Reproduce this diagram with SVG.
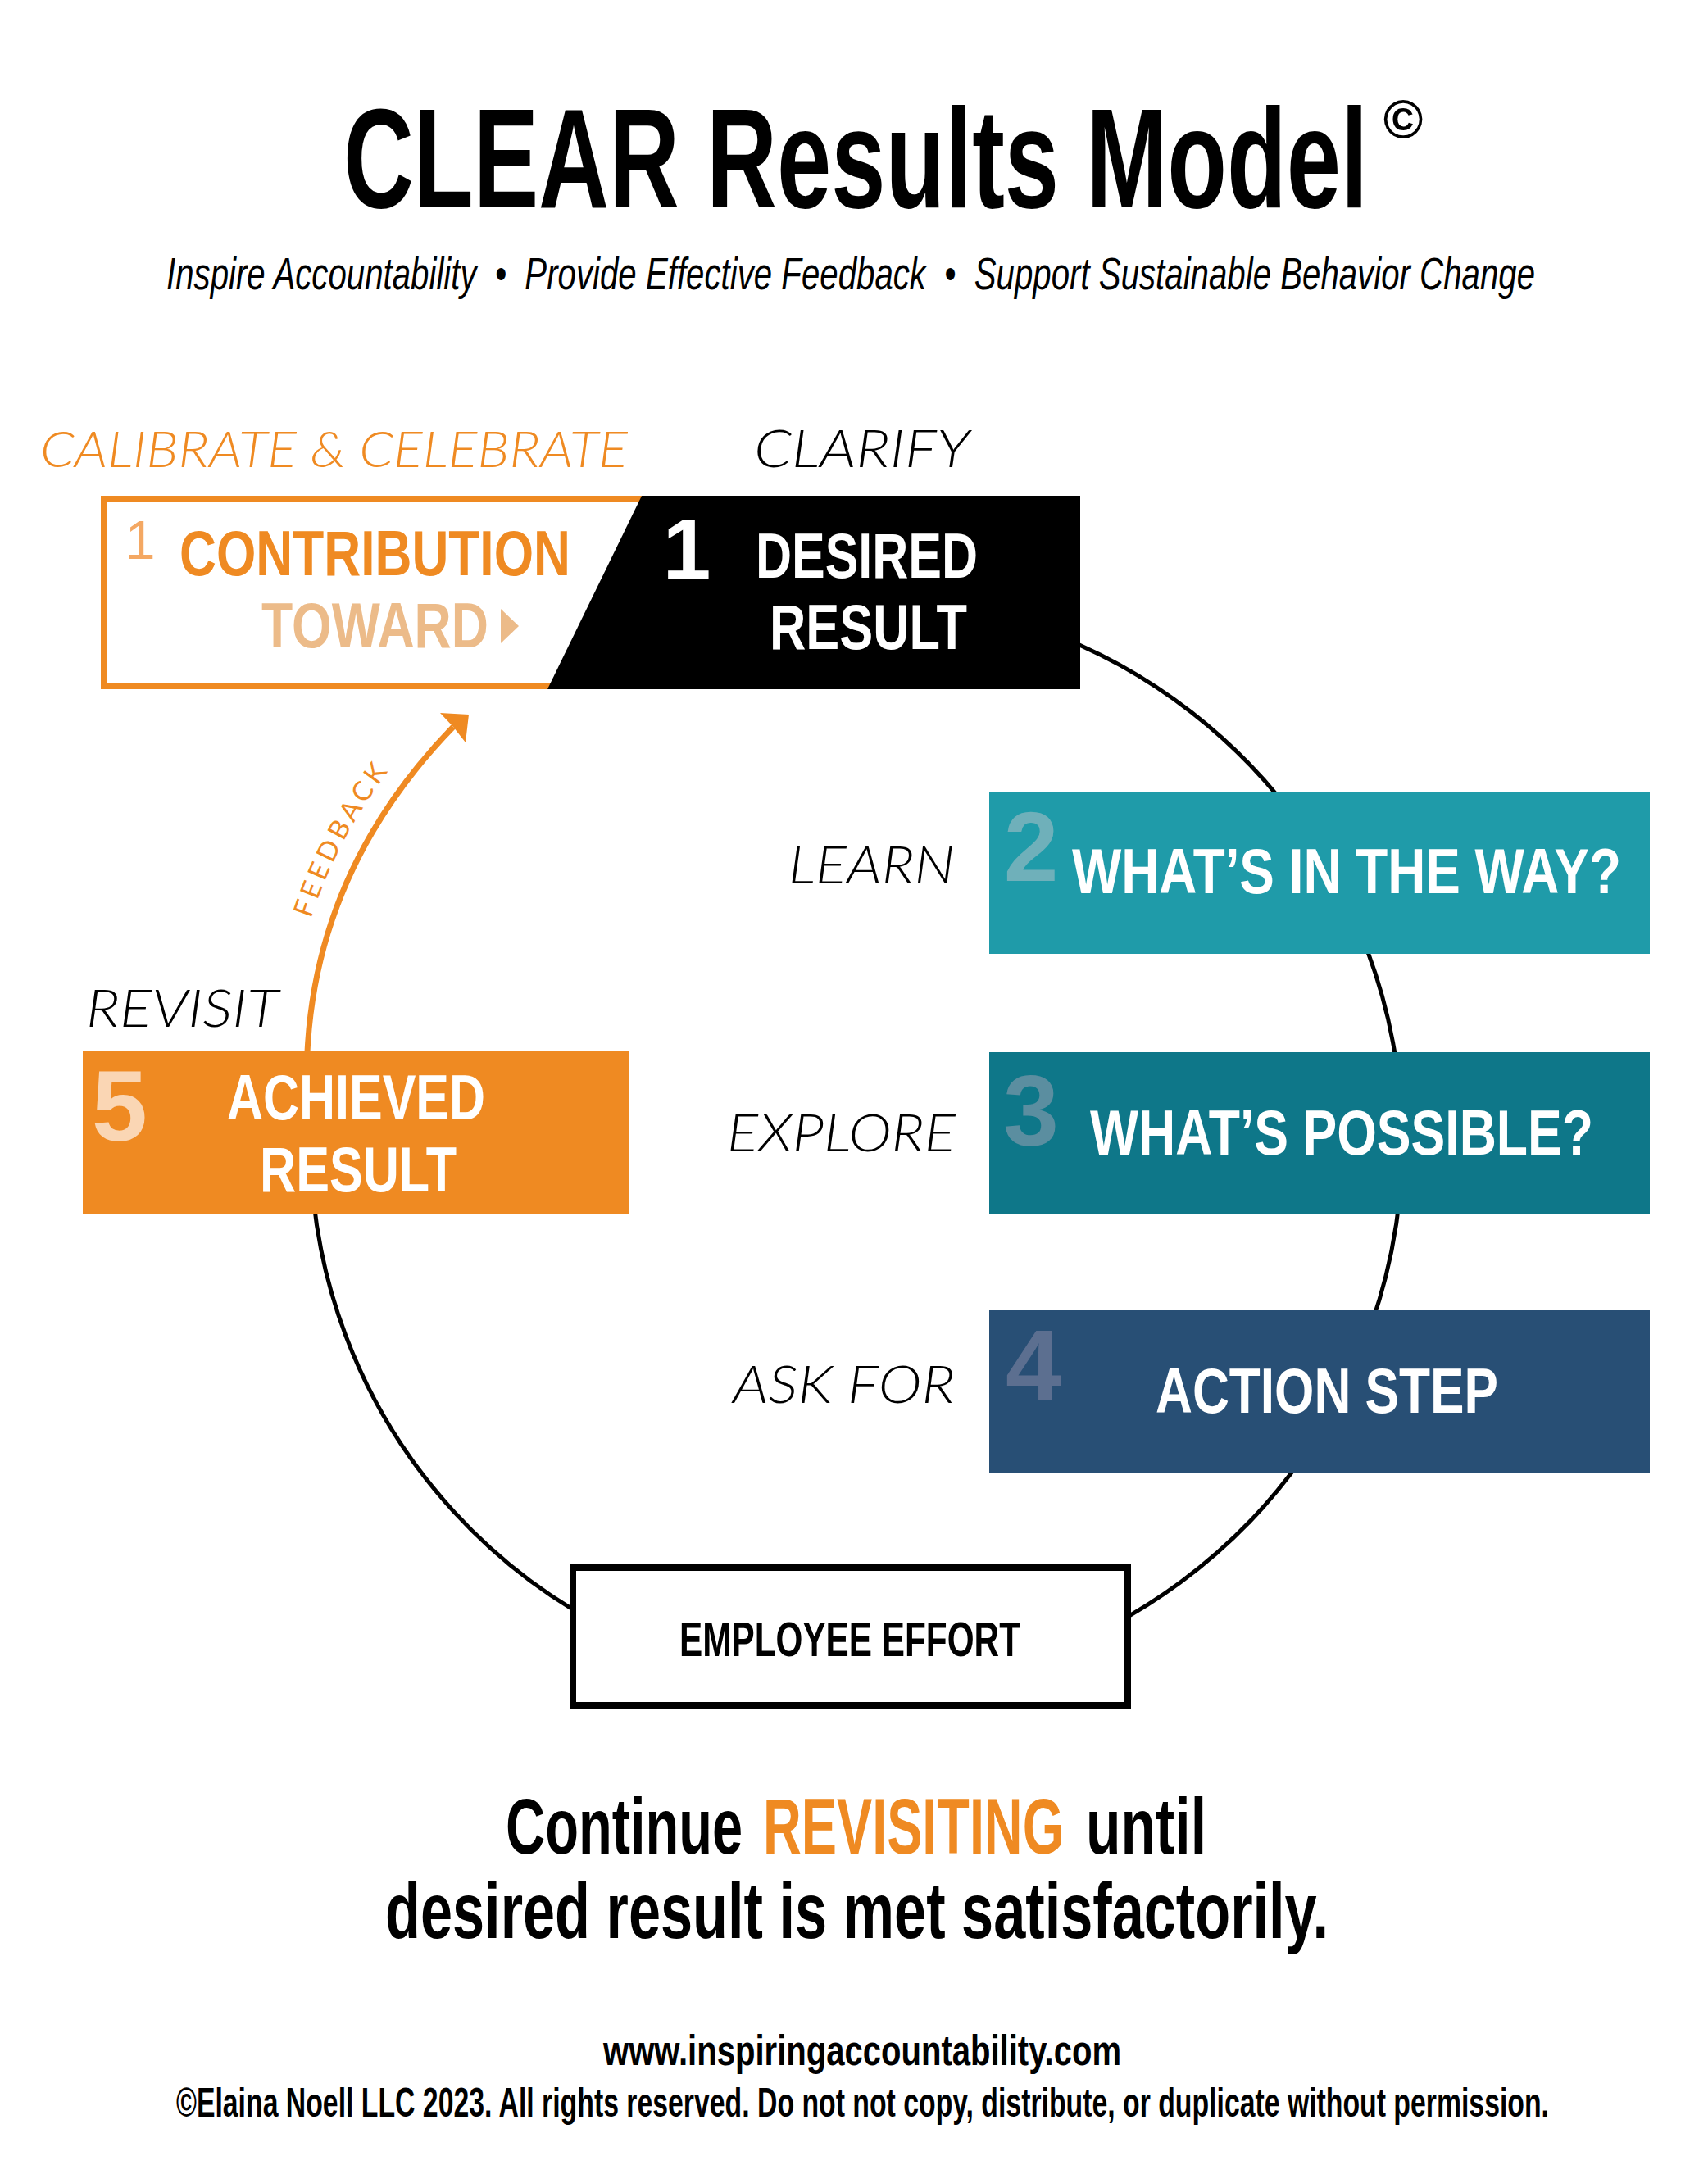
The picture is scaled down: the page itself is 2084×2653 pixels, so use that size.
<svg xmlns="http://www.w3.org/2000/svg" width="2084" height="2653" viewBox="0 0 2084 2653">
<style>
.cb{font-family:"Liberation Sans Narrow","Liberation Sans",Arial,sans-serif;font-weight:700}
.cn{font-family:"Liberation Sans Narrow","Liberation Sans",Arial,sans-serif;font-weight:400}
.lt{font-family:Lato,"Open Sans","Liberation Sans",sans-serif;font-weight:300;font-style:italic}
.lu{font-family:Lato,"Open Sans","Liberation Sans",sans-serif;font-weight:400}
.w{fill:#fff}
.or{fill:#EF8A22}
.k{fill:#000}
</style>
<rect width="2084" height="2653" fill="#fff"/>

<g id="header">
<text class="cb k" x="419" y="253" font-size="172" textLength="1250" lengthAdjust="spacingAndGlyphs">CLEAR Results Model</text>
<text class="cb k" x="1712" y="168" font-size="66" text-anchor="middle">©</text>
<text class="cn k" x="203" y="353" font-size="56" font-style="italic" textLength="1670" lengthAdjust="spacingAndGlyphs">Inspire Accountability &#160;•&#160; Provide Effective Feedback &#160;•&#160; Support Sustainable Behavior Change</text>
</g>

<g id="stage-labels">
<text class="lt or" x="49" y="570" font-size="62" textLength="717" lengthAdjust="spacingAndGlyphs">CALIBRATE &amp; CELEBRATE</text>
<text class="lt k" x="920" y="570" font-size="64" textLength="263" lengthAdjust="spacingAndGlyphs">CLARIFY</text>
<text class="lt k" x="962" y="1078" font-size="64" textLength="203" lengthAdjust="spacingAndGlyphs">LEARN</text>
<text class="lt k" x="887" y="1405" font-size="64" textLength="279" lengthAdjust="spacingAndGlyphs">EXPLORE</text>
<text class="lt k" x="894" y="1712" font-size="64" textLength="271" lengthAdjust="spacingAndGlyphs">ASK FOR</text>
<text class="lt k" x="105" y="1253" font-size="64" textLength="235" lengthAdjust="spacingAndGlyphs">REVISIT</text>
</g>

<g id="connectors">
<path d="M 1246,760 A 666,666 0 1,1 379,1400" fill="none" stroke="#000" stroke-width="5"/>
<path d="M 375,1284 Q 386,1059 553,887" fill="none" stroke="#EF8A22" stroke-width="7"/>
<polygon points="537,870 572,872 568,906 553,887" fill="#EF8A22"/>
<path id="fbtext" d="M 350,1283 Q 361.5,1048 535,870" fill="none" stroke="none"/>
<text class="lu or" font-size="33" letter-spacing="5"><textPath href="#fbtext" startOffset="165">FEEDBACK</textPath></text>
</g>

<g id="node-1">
<rect x="127" y="609" width="700" height="228" fill="#fff" stroke="#EF8A22" stroke-width="8"/>
<polygon points="783,605 1318,605 1318,841 668,841" fill="#000"/>
<text class="cn" x="171" y="682" font-size="66" text-anchor="middle" fill="#F4A863">1</text>
<text class="cb or" x="219" y="702" font-size="77" textLength="477" lengthAdjust="spacingAndGlyphs">CONTRIBUTION</text>
<text class="cb" x="319" y="790" font-size="77" textLength="277" lengthAdjust="spacingAndGlyphs" fill="#ECBB89">TOWARD</text>
<polygon points="611,743 633,764 611,785" fill="#ECBB89"/>
<text class="cb w" x="838" y="707" font-size="106" text-anchor="middle">1</text>
<text class="cb w" x="922" y="705" font-size="77" textLength="271" lengthAdjust="spacingAndGlyphs">DESIRED</text>
<text class="cb w" x="939" y="792" font-size="77" textLength="241" lengthAdjust="spacingAndGlyphs">RESULT</text>
</g>

<g id="node-2">
<rect x="1207" y="966" width="806" height="198" fill="#1F9BA9"/>
<text class="cb" x="1258" y="1075" font-size="120" text-anchor="middle" fill="#6FB0BA">2</text>
<text class="cb w" x="1308" y="1090" font-size="77" textLength="670" lengthAdjust="spacingAndGlyphs">WHAT’S IN THE WAY?</text>
</g>

<g id="node-3">
<rect x="1207" y="1284" width="806" height="198" fill="#0E7789"/>
<text class="cb" x="1258" y="1398" font-size="122" text-anchor="middle" fill="#5B8EA0">3</text>
<text class="cb w" x="1330" y="1409" font-size="77" textLength="614" lengthAdjust="spacingAndGlyphs">WHAT’S POSSIBLE?</text>
</g>

<g id="node-4">
<rect x="1207" y="1599" width="806" height="198" fill="#284F75"/>
<text class="cb" x="1261" y="1708" font-size="122" text-anchor="middle" fill="#5C6F90">4</text>
<text class="cb w" x="1410" y="1724" font-size="77" textLength="418" lengthAdjust="spacingAndGlyphs">ACTION STEP</text>
</g>

<g id="node-5">
<rect x="101" y="1282" width="667" height="200" fill="#EF8A22"/>
<text class="cb" x="146" y="1392" font-size="122" text-anchor="middle" fill="#FAD6B4">5</text>
<text class="cb w" x="277" y="1366" font-size="77" textLength="315" lengthAdjust="spacingAndGlyphs">ACHIEVED</text>
<text class="cb w" x="317" y="1454" font-size="77" textLength="240" lengthAdjust="spacingAndGlyphs">RESULT</text>
</g>

<g id="node-effort">
<rect x="699" y="1913" width="677" height="168" fill="#fff" stroke="#000" stroke-width="8"/>
<text class="cb k" x="829" y="2021" font-size="59" textLength="416" lengthAdjust="spacingAndGlyphs">EMPLOYEE EFFORT</text>
</g>

<g id="footer">
<text class="cb k" x="617" y="2262" font-size="96" textLength="289" lengthAdjust="spacingAndGlyphs">Continue</text>
<text class="cb or" x="931" y="2262" font-size="96" textLength="367" lengthAdjust="spacingAndGlyphs">REVISITING</text>
<text class="cb k" x="1325" y="2262" font-size="96" textLength="147" lengthAdjust="spacingAndGlyphs">until</text>
<text class="cb k" x="470" y="2365" font-size="96" textLength="1151" lengthAdjust="spacingAndGlyphs">desired result is met satisfactorily.</text>
<text class="cb k" x="736" y="2520" font-size="52" textLength="632" lengthAdjust="spacingAndGlyphs">www.inspiringaccountability.com</text>
<text class="cb k" x="215" y="2583" font-size="50" textLength="1675" lengthAdjust="spacingAndGlyphs">©Elaina Noell LLC 2023. All rights reserved. Do not not copy, distribute, or duplicate without permission.</text>
</g>
</svg>
